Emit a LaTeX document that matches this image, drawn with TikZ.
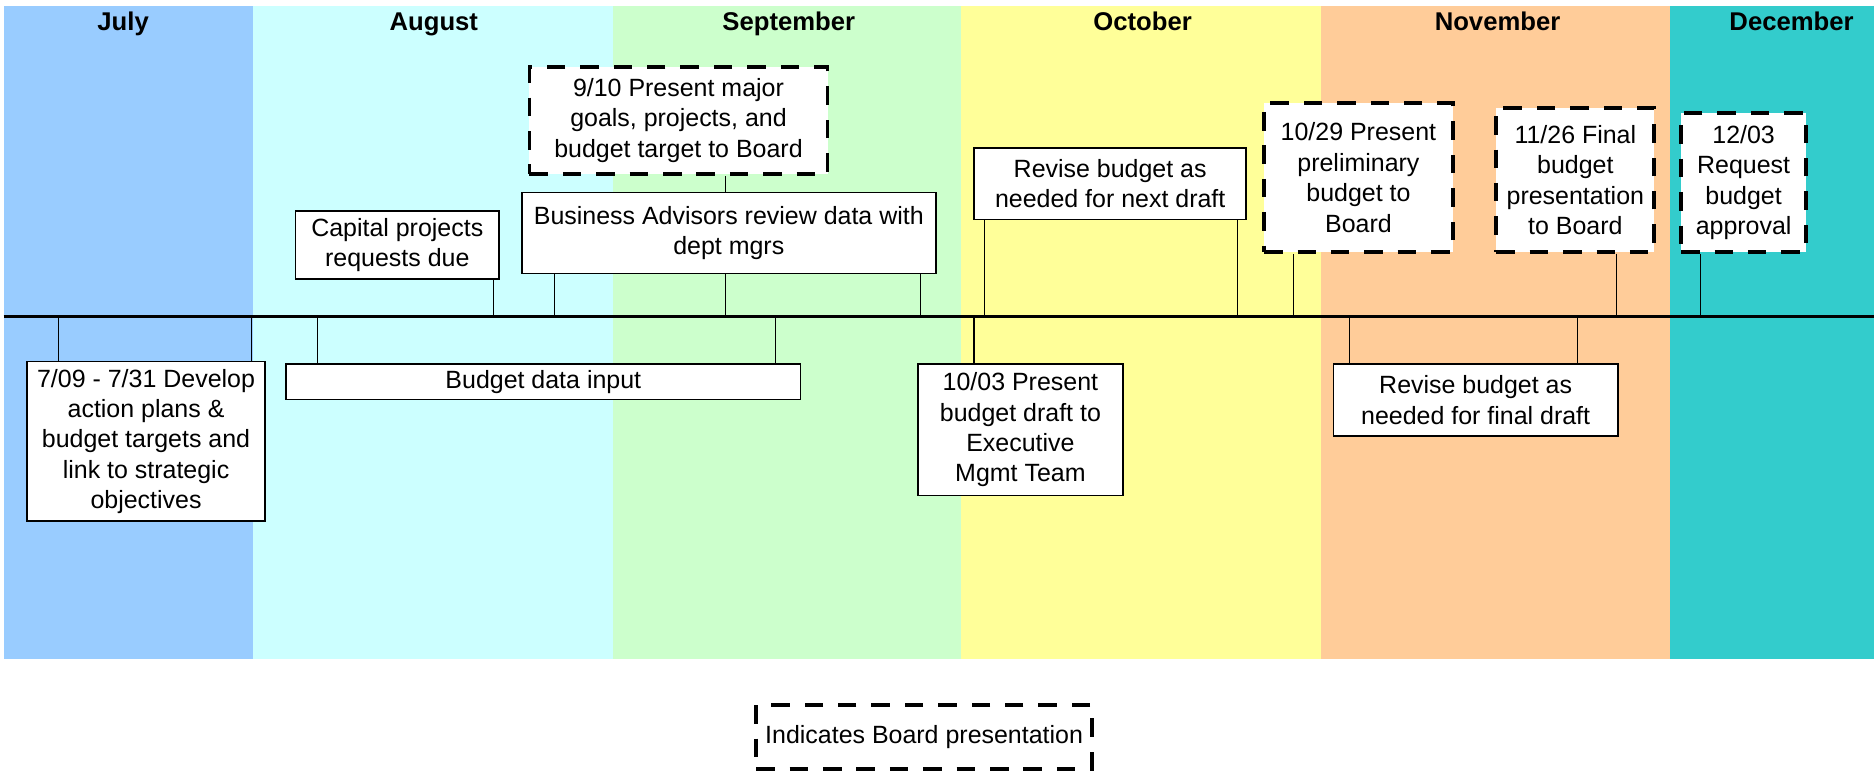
\documentclass[tikz,border=0pt]{standalone}
\usepackage{fontspec}
\setmainfont{Liberation Sans}
\definecolor{julyband}{HTML}{99CCFF}
\definecolor{augband}{HTML}{CCFFFF}
\definecolor{sepband}{HTML}{CCFFCC}
\definecolor{octband}{HTML}{FFFF99}
\definecolor{novband}{HTML}{FFCC99}
\definecolor{decband}{HTML}{33CCCC}
\tikzset{
  taskbox/.style={draw, fill=white, line width=0.9pt, align=center, inner sep=0pt,
    font=\fontsize{14.2}{17.3}\selectfont},
  boardbox/.style={taskbox, line width=2.2pt, dash pattern=on 10.5pt off 8.5pt},
  monthlabel/.style={anchor=base, inner sep=0pt, font=\fontsize{14.6}{17}\selectfont\bfseries},
  link/.style={line width=0.7pt}
}
\begin{document}
\begin{tikzpicture}[x=0.0239cm,y=-0.0239cm]
\useasboundingbox (0,0) rectangle (1568,645);

\foreach \xa/\xb/\band/\xm/\month in {3/212/julyband/103/July, 212/513/augband/363/August,
    513/804/sepband/660/September, 804/1105/octband/956/October,
    1105/1397/novband/1253/November, 1397/1568/decband/1499/December}
{
  \fill[\band] (\xa,5) rectangle (\xb,551);
  \node[monthlabel] (\month) at (\xm,25.5) {\month};
}

\coordinate (start) at (3,265);
\coordinate (end) at (1568,265);
\draw[line width=1.9pt] (start) -- (end);

\node[taskbox, minimum width=4.76cm, minimum height=3.19cm] (plan) at (122.2,369.3)
  {7/09 - 7/31 Develop\\action plans \&\\budget targets and\\link to strategic\\objectives};
\node[taskbox, minimum width=10.29cm, minimum height=0.71cm] (input) at (454.6,319.4)
  {Budget data input};
\node[taskbox, minimum width=4.07cm, minimum height=1.36cm] (capital) at (332.4,205.2)
  {Capital projects\\requests due};
\node[boardbox, minimum width=5.96cm, minimum height=2.15cm] (goals) at (567.7,100.7)
  {9/10 Present major\\goals, projects, and\\budget target to Board};
\node[taskbox, minimum width=8.28cm, minimum height=1.62cm] (review) at (609.8,194.8)
  {Business Advisors review data with\\dept mgrs};
\node[taskbox, minimum width=4.10cm, minimum height=2.63cm] (exec) at (853.8,359.7)
  {10/03 Present\\budget draft to\\Executive\\Mgmt Team};
\node[taskbox, minimum width=5.44cm, minimum height=1.43cm] (nextdraft) at (928.9,153.6)
  {Revise budget as\\needed for next draft};
\node[boardbox, minimum width=3.77cm, minimum height=2.97cm] (prelim) at (1136.6,148.6)
  {10/29 Present\\preliminary\\budget to\\Board};
\node[taskbox, minimum width=5.68cm, minimum height=1.44cm] (finaldraft) at (1234.7,334.7)
  {Revise budget as\\needed for final draft};
\node[boardbox, minimum width=3.16cm, minimum height=2.87cm] (final) at (1318.1,150.6)
  {11/26 Final\\budget\\presentation\\to Board};
\node[boardbox, minimum width=2.50cm, minimum height=2.77cm] (approval) at (1458.9,152.7)
  {12/03\\Request\\budget\\approval};
\node[boardbox, minimum width=6.71cm, minimum height=1.27cm] (legend) at (773.2,616.5)
  {Indicates Board presentation};

\coordinate (t1) at (48.7,265);
\coordinate (t2) at (210.2,265);
\coordinate (t3) at (265.4,265);
\coordinate (t4) at (412.9,265);
\coordinate (t5) at (464,265);
\coordinate (t6) at (607,265);
\coordinate (t7) at (648.7,265);
\coordinate (t8) at (770,265);
\coordinate (t9) at (815,265);
\coordinate (t10) at (823.6,265);
\coordinate (t11) at (1035.6,265);
\coordinate (t12) at (1082,265);
\coordinate (t13) at (1128.9,265);
\coordinate (t14) at (1319.8,265);
\coordinate (t15) at (1352.6,265);
\coordinate (t16) at (1423,265);

\draw[link] (plan.north -| t1) -- (t1);
\draw[link] (plan.north -| t2) -- (t2);
\draw[link] (input.north -| t3) -- (t3);
\draw[link] (input.north -| t7) -- (t7);
\draw[link] (capital.south -| t4) -- (t4);
\draw[link] (review.south -| t5) -- (t5);
\draw[link] (review.south -| t6) -- (t6);
\draw[link] (review.south -| t8) -- (t8);
\draw[link] (goals.south -| t6) -- (review.north -| t6);
\draw[link] (exec.north -| t9) -- (t9);
\draw[link] (nextdraft.south -| t10) -- (t10);
\draw[link] (nextdraft.south -| t11) -- (t11);
\draw[link] (prelim.south -| t12) -- (t12);
\draw[link] (finaldraft.north -| t13) -- (t13);
\draw[link] (finaldraft.north -| t14) -- (t14);
\draw[link] (final.south -| t15) -- (t15);
\draw[link] (approval.south -| t16) -- (t16);
\end{tikzpicture}
\end{document}
